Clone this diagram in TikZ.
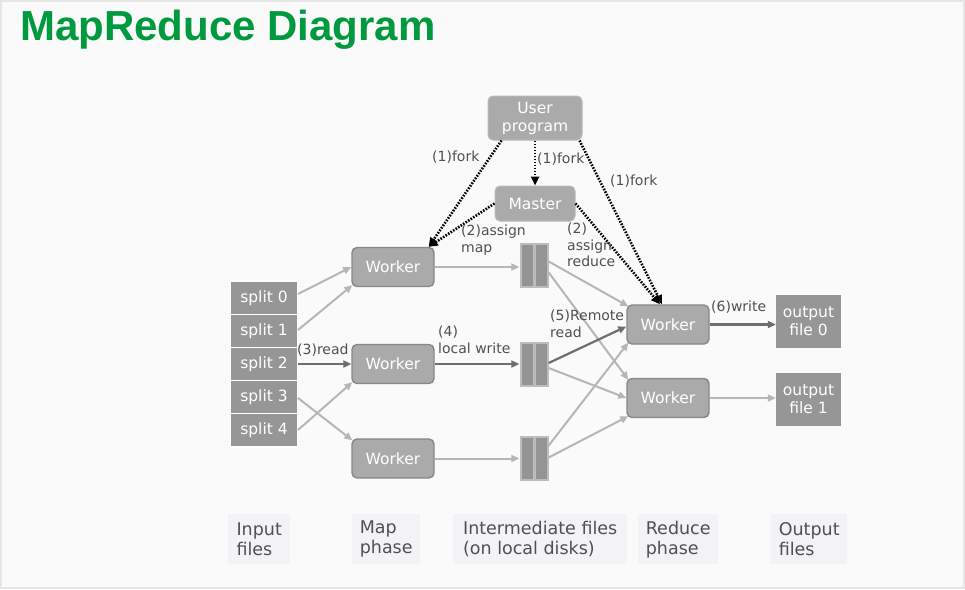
\documentclass[tikz,border=0pt]{standalone}
\usepackage{fontspec}
\setmainfont{DejaVu Sans}
\newfontfamily\titlefont{Liberation Sans}
\usetikzlibrary{arrows.meta,calc}

\definecolor{bgfill}{RGB}{250,250,250}
\definecolor{bgline}{RGB}{230,230,230}
\definecolor{titlegreen}{RGB}{0,154,62}
\definecolor{boxfill}{RGB}{170,170,170}
\definecolor{boxline}{RGB}{135,135,135}
\definecolor{ctrlline}{RGB}{185,185,185}
\definecolor{splitfill}{RGB}{150,150,150}
\definecolor{diskfill}{RGB}{188,188,188}
\definecolor{diskbar}{RGB}{148,148,148}
\definecolor{lightflow}{RGB}{182,182,182}
\definecolor{darkflow}{RGB}{110,110,110}
\definecolor{lbltext}{RGB}{80,80,80}
\definecolor{phasefill}{RGB}{243,242,246}

\newcommand\wbfont{\fontsize{15.5}{18}\selectfont}
\newcommand\lblfont{\fontsize{14}{16.5}\selectfont}
\newcommand\phfont{\fontsize{17.5}{20}\selectfont}

\tikzset{
  worker/.style={draw=boxline, fill=boxfill, line width=1.4pt, rounded corners=5pt,
    text=white, font=\wbfont, minimum width=82pt, minimum height=39pt, inner sep=0},
  ctrlbox/.style={draw=ctrlline, fill=boxfill, line width=1pt, rounded corners=5pt,
    text=white, font=\wbfont, align=center, inner sep=0},
  split/.style={draw=white, fill=splitfill, line width=1pt, text=white, font=\wbfont,
    minimum width=67pt, minimum height=33pt, inner sep=0},
  outfile/.style={fill=splitfill, text=white, font=\wbfont, align=center,
    minimum width=65pt, minimum height=53pt, inner sep=0},
  disk/.style={fill=diskfill, minimum width=29pt, minimum height=45pt, inner sep=0,
    path picture={
      \fill[diskbar] ($(path picture bounding box.south west)+(2pt,2pt)$)
        rectangle ($(path picture bounding box.north)+(-1.5pt,-2pt)$);
      \fill[diskbar] ($(path picture bounding box.south)+(1.5pt,2pt)$)
        rectangle ($(path picture bounding box.north east)+(-2pt,-2pt)$);
    }},
  flow/.style={draw=lightflow, line width=2pt, -{Triangle[length=8pt,width=7pt]}},
  mainflow/.style={flow, draw=darkflow, line width=2.2pt},
  ctrl/.style={draw=black, line width=2.6pt, dash pattern=on 1.6pt off 1.4pt,
    -{Triangle[length=9pt,width=8pt]}},
  lbl/.style={text=lbltext, font=\lblfont, align=left, inner sep=0},
  phase/.style={fill=phasefill, text=lbltext, font=\phfont, align=left, anchor=north west,
    inner xsep=7pt, inner ysep=4pt, minimum height=50pt}
}

\begin{document}
\begin{tikzpicture}[x=1pt,y=-1pt]
  \fill[bgfill] (0,0) rectangle (965,589);
  \draw[bgline, line width=2pt] (1,1) rectangle (964,588);
  \node[anchor=base west, inner sep=0, text=titlegreen,
    font=\titlefont\bfseries\fontsize{42}{48}\selectfont] (title) at (20,40) {MapReduce Diagram};

  % user program and master
  \node[ctrlbox, minimum width=94pt, minimum height=44pt] (user) at (535,118) {User\\program};
  \node[ctrlbox, minimum width=80pt, minimum height=35pt] (master) at (535,203.5) {Master};

  % input splits
  \foreach \i/\y in {0/298,1/331,2/364,3/397,4/430}
    \node[split] (split\i) at (264,\y) {split \i};

  % map workers and their local files
  \foreach \i/\y in {1/267,2/364,3/458.5}
    \node[worker] (map\i) at (393,\y) {Worker};
  \foreach \i/\y in {1/265.5,2/364,3/458.5}
    \node[disk] (ifile\i) at (534,\y) {};

  % reduce workers and output
  \node[worker] (red1) at (668,324.5) {Worker};
  \node[worker] (red2) at (668,398) {Worker};
  \node[outfile] (out0) at (808.5,321.5) {output\\file 0};
  \node[outfile] (out1) at (808.5,399.5) {output\\file 1};

  % fork and assign
  \draw[ctrl] ([xshift=14pt]user.south west) -- ([xshift=-6pt]map1.north east);
  \draw[ctrl] (user.south) -- (master.north);
  \draw[ctrl] ([xshift=-3pt]user.south east) -- ([xshift=-6pt]red1.north);
  \draw[ctrl] (master.west) -- ([xshift=-6pt]map1.north east);
  \draw[ctrl] (master.east) -- ([xshift=-8pt]red1.north);
  \node[lbl, anchor=west] (fork1) at (432,157) {(1)fork};
  \node[lbl, anchor=west] (fork2) at (537,159) {(1)fork};
  \node[lbl, anchor=west] (fork3) at (610,181) {(1)fork};
  \node[lbl, anchor=north west] (assignmap) at (461,225) {(2)assign\\map};
  \node[lbl, anchor=north west] (assignred) at (567,223) {(2)\\assign\\reduce};

  % map phase
  \draw[flow] ([yshift=4pt]split0.east) -- (map1.west);
  \draw[flow] ([yshift=1pt]split1.east) -- ([xshift=1pt,yshift=2pt]map1.south west);
  \draw[mainflow] (split2.east) -- (map2.west);
  \draw[flow] ([yshift=-1pt]split3.east) -- ([xshift=1pt,yshift=-2pt]map3.north west);
  \draw[flow] (split4.east) -- ([xshift=1pt,yshift=2pt]map2.south west);
  \node[lbl, anchor=west] (read) at (297,350) {(3)read};

  \draw[flow] (map1.east) -- (map1.east -| ifile1.west);
  \draw[mainflow] (map2.east) -- (ifile2.west);
  \draw[flow] (map3.east) -- (ifile3.west);
  \node[lbl, anchor=north west] (lwrite) at (438,326) {(4)\\local write};

  % reduce phase
  \draw[flow] ([yshift=4pt]ifile1.east) -- ([xshift=2pt,yshift=-2pt]red1.north west);
  \draw[flow] ([yshift=-7pt]ifile1.east) -- ([xshift=2pt,yshift=-2pt]red2.north west);
  \draw[mainflow] ([yshift=1pt]ifile2.east) -- ([yshift=-2pt]red1.west);
  \draw[flow] ([yshift=-4pt]ifile2.east) -- (red2.west);
  \draw[flow] ([yshift=13pt]ifile3.east) -- ([xshift=2pt,yshift=2pt]red1.south west);
  \draw[flow] ([yshift=1pt]ifile3.east) -- ([xshift=2pt,yshift=2pt]red2.south west);
  \node[lbl, anchor=north west] (rread) at (550,310) {(5)Remote\\read};

  \draw[mainflow] (red1.east) -- (red1.east -| out0.west);
  \draw[flow] (red2.east) -- (red2.east -| out1.west);
  \node[lbl, anchor=west] (write) at (711,307) {(6)write};

  % phase captions
  \node[phase, minimum width=62pt] (cin) at (228,514) {Input\\files};
  \node[phase, minimum width=68pt] (cmap) at (352,514) {Map\\phase};
  \node[phase, minimum width=174pt] (cmid) at (453,514) {Intermediate files\\(on local disks)};
  \node[phase, minimum width=80pt] (cred) at (638,514) {Reduce\\phase};
  \node[phase, minimum width=76pt] (cout) at (771,514) {Output\\files};
\end{tikzpicture}
\end{document}
